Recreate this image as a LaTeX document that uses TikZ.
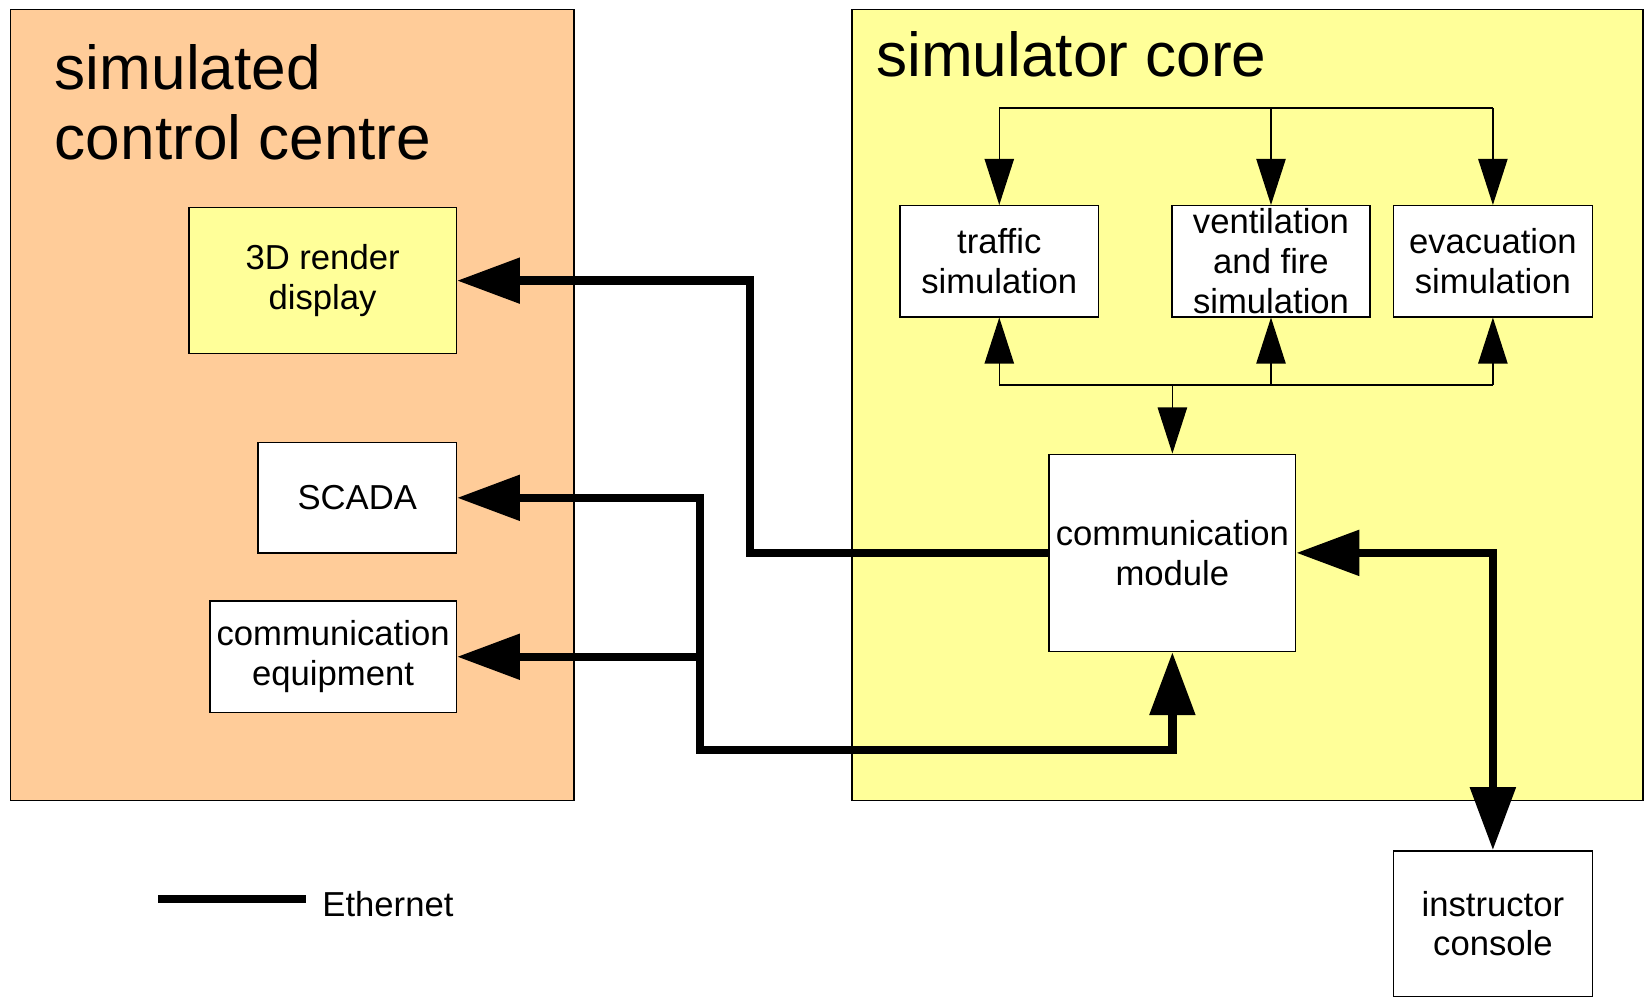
\documentclass[tikz,border=0pt]{standalone}
\usepackage{fontspec}
\setmainfont{Liberation Sans}
\usetikzlibrary{arrows.meta}
\definecolor{peach}{HTML}{FFCC99}
\definecolor{paleyellow}{HTML}{FFFF99}
\newcommand\boxfont{\fontsize{18.8}{21.5}\selectfont}
\newcommand\mytitlefont{\fontsize{33.7}{38}\selectfont}
\tikzset{
  smalltip/.tip={Triangle[length=0.88cm,width=0.56cm]},
  bigtip/.tip={Triangle[length=1.2cm,width=0.84cm]},
  region/.style={draw=black, line width=0.75pt, inner sep=0pt},
  box/.style={draw=black, line width=0.75pt, fill=white, inner sep=0pt, align=center, font=\boxfont},
  bus/.style={line width=0.75pt},
  busarrow/.style={bus, -smalltip},
  eth/.style={line width=4.6pt},
  titletext/.style={inner sep=0pt, anchor=base west, font=\mytitlefont},
}
\begin{document}
\begin{tikzpicture}[x=0.02cm,y=-0.02cm]
\useasboundingbox (0,0) rectangle (1568,954);

% regions
\node[region, fill=peach, minimum width=10.74cm, minimum height=15.08cm] (ccentre) at (278.5,386) {};
\node[region, fill=paleyellow, minimum width=15.08cm, minimum height=15.08cm] (core) at (1189,386) {};

\node[titletext] (t1a) at (52,85) {simulated};
\node[titletext] (t1b) at (52,152) {control centre};
\node[titletext] (t2) at (835,73) {simulator core};

% control centre boxes
\node[box, fill=paleyellow, minimum width=5.1cm, minimum height=2.78cm] (render) at (307.5,267.5) {3D render\\display};
\node[box, minimum width=3.78cm, minimum height=2.1cm] (scada) at (340.5,474.5) {SCADA};
\node[box, minimum width=4.7cm, minimum height=2.12cm] (equip) at (317.5,626) {communication\\equipment};

% simulator core boxes
\node[box, minimum width=3.78cm, minimum height=2.12cm] (traffic) at (952.5,249) {traffic\\simulation};
\node[box, minimum width=3.78cm, minimum height=2.12cm] (vent) at (1211.5,249) {ventilation\\and fire\\simulation};
\node[box, minimum width=3.8cm, minimum height=2.12cm] (evac) at (1423,249) {evacuation\\simulation};
\node[box, minimum width=4.7cm, minimum height=3.76cm] (comm) at (1117.5,527) {communication\\module};
\node[box, minimum width=3.8cm, minimum height=2.78cm] (console) at (1423,880.5) {instructor\\console};

% buses
\coordinate (topbus) at (0,103);
\coordinate (botbus) at (0,367);
\draw[bus] (traffic.north |- topbus) -- (evac.north |- topbus);
\draw[busarrow] (traffic.north |- topbus) -- (traffic.north);
\draw[busarrow] (vent.north |- topbus) -- (vent.north);
\draw[busarrow] (evac.north |- topbus) -- (evac.north);
\draw[bus] (traffic.south |- botbus) -- (evac.south |- botbus);
\draw[busarrow] (traffic.south |- botbus) -- (traffic.south);
\draw[busarrow] (vent.south |- botbus) -- (vent.south);
\draw[busarrow] (evac.south |- botbus) -- (evac.south);
\draw[busarrow] (comm.north |- botbus) -- (comm.north);

% ethernet
\coordinate (jr) at (715,0);
\coordinate (js) at (667,0);
\coordinate (jb) at (0,715);
\draw[eth, -bigtip] (comm.west) -| (jr |- render.east) -- (render.east);
\draw[eth, bigtip-bigtip] (scada.east) -- (js |- scada.east) -- (js |- jb) -- (comm.south |- jb) -- (comm.south);
\draw[eth, -bigtip] (js |- equip.east) -- (equip.east);
\draw[eth, bigtip-bigtip] (comm.east) -| (console.north);

% legend
\coordinate (l1) at (151,857);
\coordinate (l2) at (292,857);
\draw[eth] (l1) -- (l2);
\node[anchor=west, inner sep=0pt, font=\boxfont] (ethlabel) at (307,862) {Ethernet};
\end{tikzpicture}
\end{document}
